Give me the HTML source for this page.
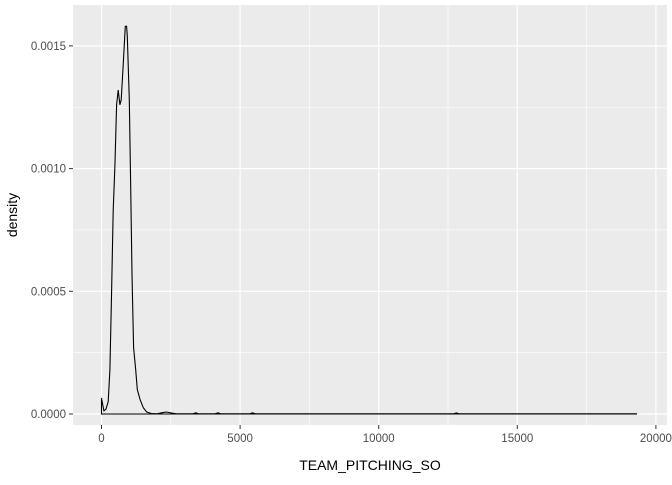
<!DOCTYPE html>
<html><head><meta charset="utf-8"><style>
body{margin:0;background:#fff;font-family:"Liberation Sans",sans-serif}
</style></head><body>
<svg id="chart" width="672" height="480" xmlns="http://www.w3.org/2000/svg">
<rect x="73" y="5" width="594" height="420" fill="#ebebeb"/>
<g id="grid"></g><g id="axes"></g>
<path id="line" fill="none" stroke="#000" stroke-width="1.1"/>
<text x="370" y="470" text-anchor="middle" font-size="14" fill="#000">TEAM_PITCHING_SO</text>
<text transform="translate(17,215) rotate(-90)" text-anchor="middle" font-size="14" fill="#000">density</text>
</svg>
<script>
const xVals=[0,85,157,241,302,362,423,483,543,604,664,712,785,857,906,930,1002,1050,1099,1159,1232,1292,1389,1510,1630,1800,2000,2170,2330,2530,2700,3300,3400,3500,4100,4200,4300,5350,5450,5550,12700,12800,12900,19300];
const yVals=[0.000065,0.000013,0.000019,0.00005,0.00018,0.00048,0.00083,0.00101,0.00126,0.00132,0.00126,0.00128,0.00143,0.00158,0.00158,0.00154,0.00128,0.00095,0.00057,0.00027,0.00018,0.0001,0.00006,0.000025,0.000008,0.000002,0.000001,0.000005,0.000008,0.000004,0.000001,0.000001,0.000005,0.000001,0.000001,0.000005,0.000001,0.000001,0.000005,0.000001,0.000001,0.000004,0.000001,0.000001];
const xTicks=[0,5000,10000,15000,20000];
const xTickLabels=["0","5000","10000","15000","20000"];
const yTicks=[0,0.0005,0.001,0.0015];
const yTickLabels=["0.0000","0.0005","0.0010","0.0015"];
const sx=v=>101.5+v*0.02772;
const sy=v=>414-v*245400;
const NS="http://www.w3.org/2000/svg";
const grid=document.getElementById('grid'),axes=document.getElementById('axes');
function mk(tag,attrs,parent){const e=document.createElementNS(NS,tag);for(const k in attrs)e.setAttribute(k,attrs[k]);parent.appendChild(e);return e;}
for(let i=0;i<xTicks.length-1;i++){const m=(xTicks[i]+xTicks[i+1])/2;
 const g=mk('line',{x1:sx(m),x2:sx(m),y1:5,y2:425,stroke:'#fff','stroke-width':0.6},grid);
 
 }
for(let i=0;i<yTicks.length;i++){const m=yTicks[i]+0.00025;
 const g=mk('line',{x1:73,x2:667,y1:sy(m),y2:sy(m),stroke:'#fff','stroke-width':0.6},grid);
 
 }
xTicks.forEach((t,i)=>{
 const g=mk('line',{x1:sx(t),x2:sx(t),y1:5,y2:425,stroke:'#fff','stroke-width':1.2},grid);
 
 
 mk('line',{x1:sx(t),x2:sx(t),y1:425,y2:429,stroke:'#333','stroke-width':1},axes);
 const l=mk('text',{x:sx(t),y:442,'text-anchor':'middle','font-size':11.5,fill:'#4d4d4d'},axes);
 l.textContent=xTickLabels[i];
 
 
});
yTicks.forEach((t,i)=>{
 const g=mk('line',{x1:73,x2:667,y1:sy(t),y2:sy(t),stroke:'#fff','stroke-width':1.2},grid);
 
 
 mk('line',{x1:69,x2:73,y1:sy(t),y2:sy(t),stroke:'#333','stroke-width':1},axes);
 const l=mk('text',{x:66,y:sy(t)+4,'text-anchor':'end','font-size':11.5,fill:'#4d4d4d'},axes);
 l.textContent=yTickLabels[i];
 
 
});
let d='M'+sx(xVals[0])+','+sy(0)+' ';
xVals.forEach((x,i)=>{d+='L'+sx(x).toFixed(1)+','+sy(yVals[i]).toFixed(1)+' ';});
d+='L'+sx(xVals[xVals.length-1])+','+sy(0)+' Z';
document.getElementById('line').setAttribute('d',d);
</script>
</body></html>
